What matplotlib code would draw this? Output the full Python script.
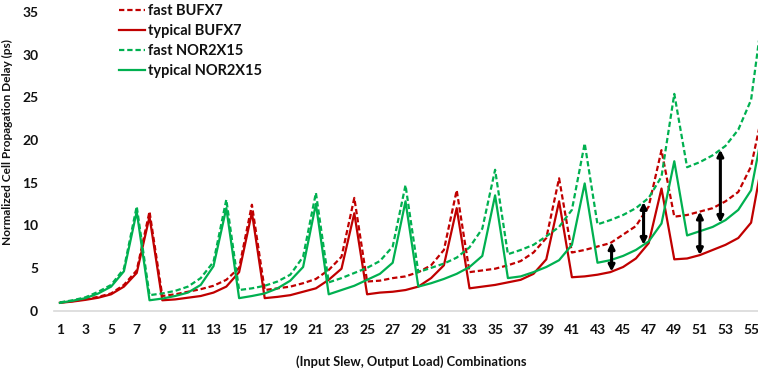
import numpy as np
import matplotlib
matplotlib.use("Agg")
import matplotlib.pyplot as plt

plt.rcParams['font.family'] = ['Lato', 'DejaVu Sans']

combos = np.arange(1, 57)
tick_labels = [str(i) for i in range(1, 57, 2)]

fast_bufx7 = [0.95, 1.1, 1.35, 1.6, 2.0, 3.0, 4.7, 11.6,
              1.7, 1.9, 2.2, 2.5, 2.9, 3.6, 5.0, 12.4,
              2.4, 2.6, 2.8, 3.2, 3.7, 4.75, 6.3, 13.2,
              3.4, 3.5, 3.8, 4.0, 4.5, 5.3, 7.1, 14.1,
              4.5, 4.7, 4.9, 5.3, 5.8, 6.8, 8.5, 15.5,
              6.8, 7.1, 7.5, 7.9, 8.9, 9.9, 12.2, 18.8,
              11.0, 11.2, 11.6, 12.0, 12.8, 13.9, 16.9, 24.0]
typical_bufx7 = [0.9, 1.05, 1.25, 1.5, 1.9, 2.8, 4.4, 11.0,
                 1.2, 1.3, 1.5, 1.7, 2.1, 2.8, 4.5, 11.5,
                 1.45, 1.6, 1.8, 2.2, 2.6, 3.6, 4.9, 11.4,
                 1.9, 2.1, 2.2, 2.4, 2.8, 3.8, 5.3, 12.0,
                 2.6, 2.8, 3.0, 3.3, 3.6, 4.3, 6.0, 12.8,
                 3.9, 4.0, 4.2, 4.5, 5.1, 6.1, 7.9, 14.3,
                 6.0, 6.1, 6.5, 7.1, 7.7, 8.5, 10.3, 18.5]
fast_nor2x15 = [0.95, 1.2, 1.55, 2.2, 3.0, 4.9, 12.2,
                1.8, 2.0, 2.3, 2.8, 3.8, 5.7, 13.0,
                2.4, 2.6, 2.9, 3.4, 4.2, 6.3, 13.8,
                3.3, 3.8, 4.4, 5.0, 5.8, 7.5, 14.7,
                4.5, 5.0, 5.5, 6.2, 7.4, 9.6, 16.5,
                6.6, 7.1, 7.7, 8.7, 9.8, 11.8, 19.6,
                10.1, 10.6, 11.2, 12.0, 13.2, 15.7, 25.4,
                16.8, 17.4, 18.2, 19.3, 21.2, 24.7, 36.0]
typical_nor2x15 = [0.9, 1.15, 1.45, 2.0, 2.8, 4.6, 11.6,
                   1.2, 1.4, 1.7, 2.1, 3.0, 5.2, 12.0,
                   1.45, 1.7, 2.0, 2.6, 3.5, 5.1, 12.5,
                   1.9, 2.4, 2.9, 3.6, 4.3, 5.6, 12.8,
                   2.8, 3.2, 3.7, 4.3, 5.1, 6.4, 13.5,
                   3.8, 4.0, 4.5, 5.1, 5.9, 7.7, 14.9,
                   5.6, 5.9, 6.4, 7.1, 8.1, 10.2, 17.5,
                   8.8, 9.3, 9.8, 10.6, 11.8, 14.1, 21.9]

# arrows: (x position, lower series, upper series)
arrow_specs = [(44.1, typical_bufx7, fast_bufx7),
               (46.6, typical_nor2x15, fast_nor2x15),
               (51.0, typical_bufx7, fast_bufx7),
               (52.6, typical_nor2x15, fast_nor2x15)]

RED = '#C00000'
GREEN = '#00B050'

fig = plt.figure(figsize=(7.58, 3.72), dpi=100)
ax = fig.add_axes([0.0706, 0.1653, 1 - 0.0706, 0.9677 - 0.1653])

dash = (0, (2.4, 1.3))
ax.plot(combos, fast_bufx7, color=RED, lw=1.6, linestyle=dash, label='fast BUFX7')
ax.plot(combos, typical_bufx7, color=RED, lw=1.6, label='typical BUFX7')
ax.plot(combos, fast_nor2x15, color=GREEN, lw=1.6, linestyle=dash, label='fast NOR2X15')
ax.plot(combos, typical_nor2x15, color=GREEN, lw=1.6, label='typical NOR2X15')

for xa, lo, hi in arrow_specs:
    y0 = np.interp(xa, combos, lo)
    y1 = np.interp(xa, combos, hi)
    ax.annotate('', xy=(xa, y1), xytext=(xa, y0),
                arrowprops=dict(arrowstyle='<|-|>', color='black', lw=2.2,
                                mutation_scale=9, shrinkA=0, shrinkB=0))

ax.set_xlim(0.5, 55.54)
ax.set_ylim(0, 35)
ax.set_xticks(np.arange(1, 57, 2))
ax.set_xticklabels(tick_labels)
ax.set_yticks(np.arange(0, 36, 5))
ax.tick_params(axis='both', length=0, labelsize=10, labelcolor='#111111')
for lab in ax.get_xticklabels() + ax.get_yticklabels():
    lab.set_fontweight('bold')
ax.tick_params(axis='x', pad=10)
ax.tick_params(axis='y', pad=11)

for s in ['top', 'right', 'left']:
    ax.spines[s].set_visible(False)
ax.spines['bottom'].set_color('#d9d9d9')
ax.spines['bottom'].set_linewidth(1.2)

ax.set_xlabel('(Input Slew, Output Load) Combinations', fontsize=9.3,
              fontweight='bold', color='#111111')
ax.set_ylabel('Normalized Cell Propagation Delay (ps)', fontsize=8.6,
              fontweight='bold', color='#111111')
ax.xaxis.set_label_coords(0.5 + (411 - 405.75) / 704.5, -(355 - 310.5) / 298.5)
ax.yaxis.set_label_coords((13 - 53.5) / 704.5, (310.5 - 142) / 298.5)

leg = fig.legend(loc='upper left', bbox_to_anchor=(0.14, 1.025), frameon=False,
                 handlelength=1.8, handletextpad=0.2,
                 labelspacing=0.42, prop={'weight': 'bold', 'size': 10.5})
for t in leg.get_texts():
    t.set_color('#111111')

fig.savefig('out.png', dpi=100)
